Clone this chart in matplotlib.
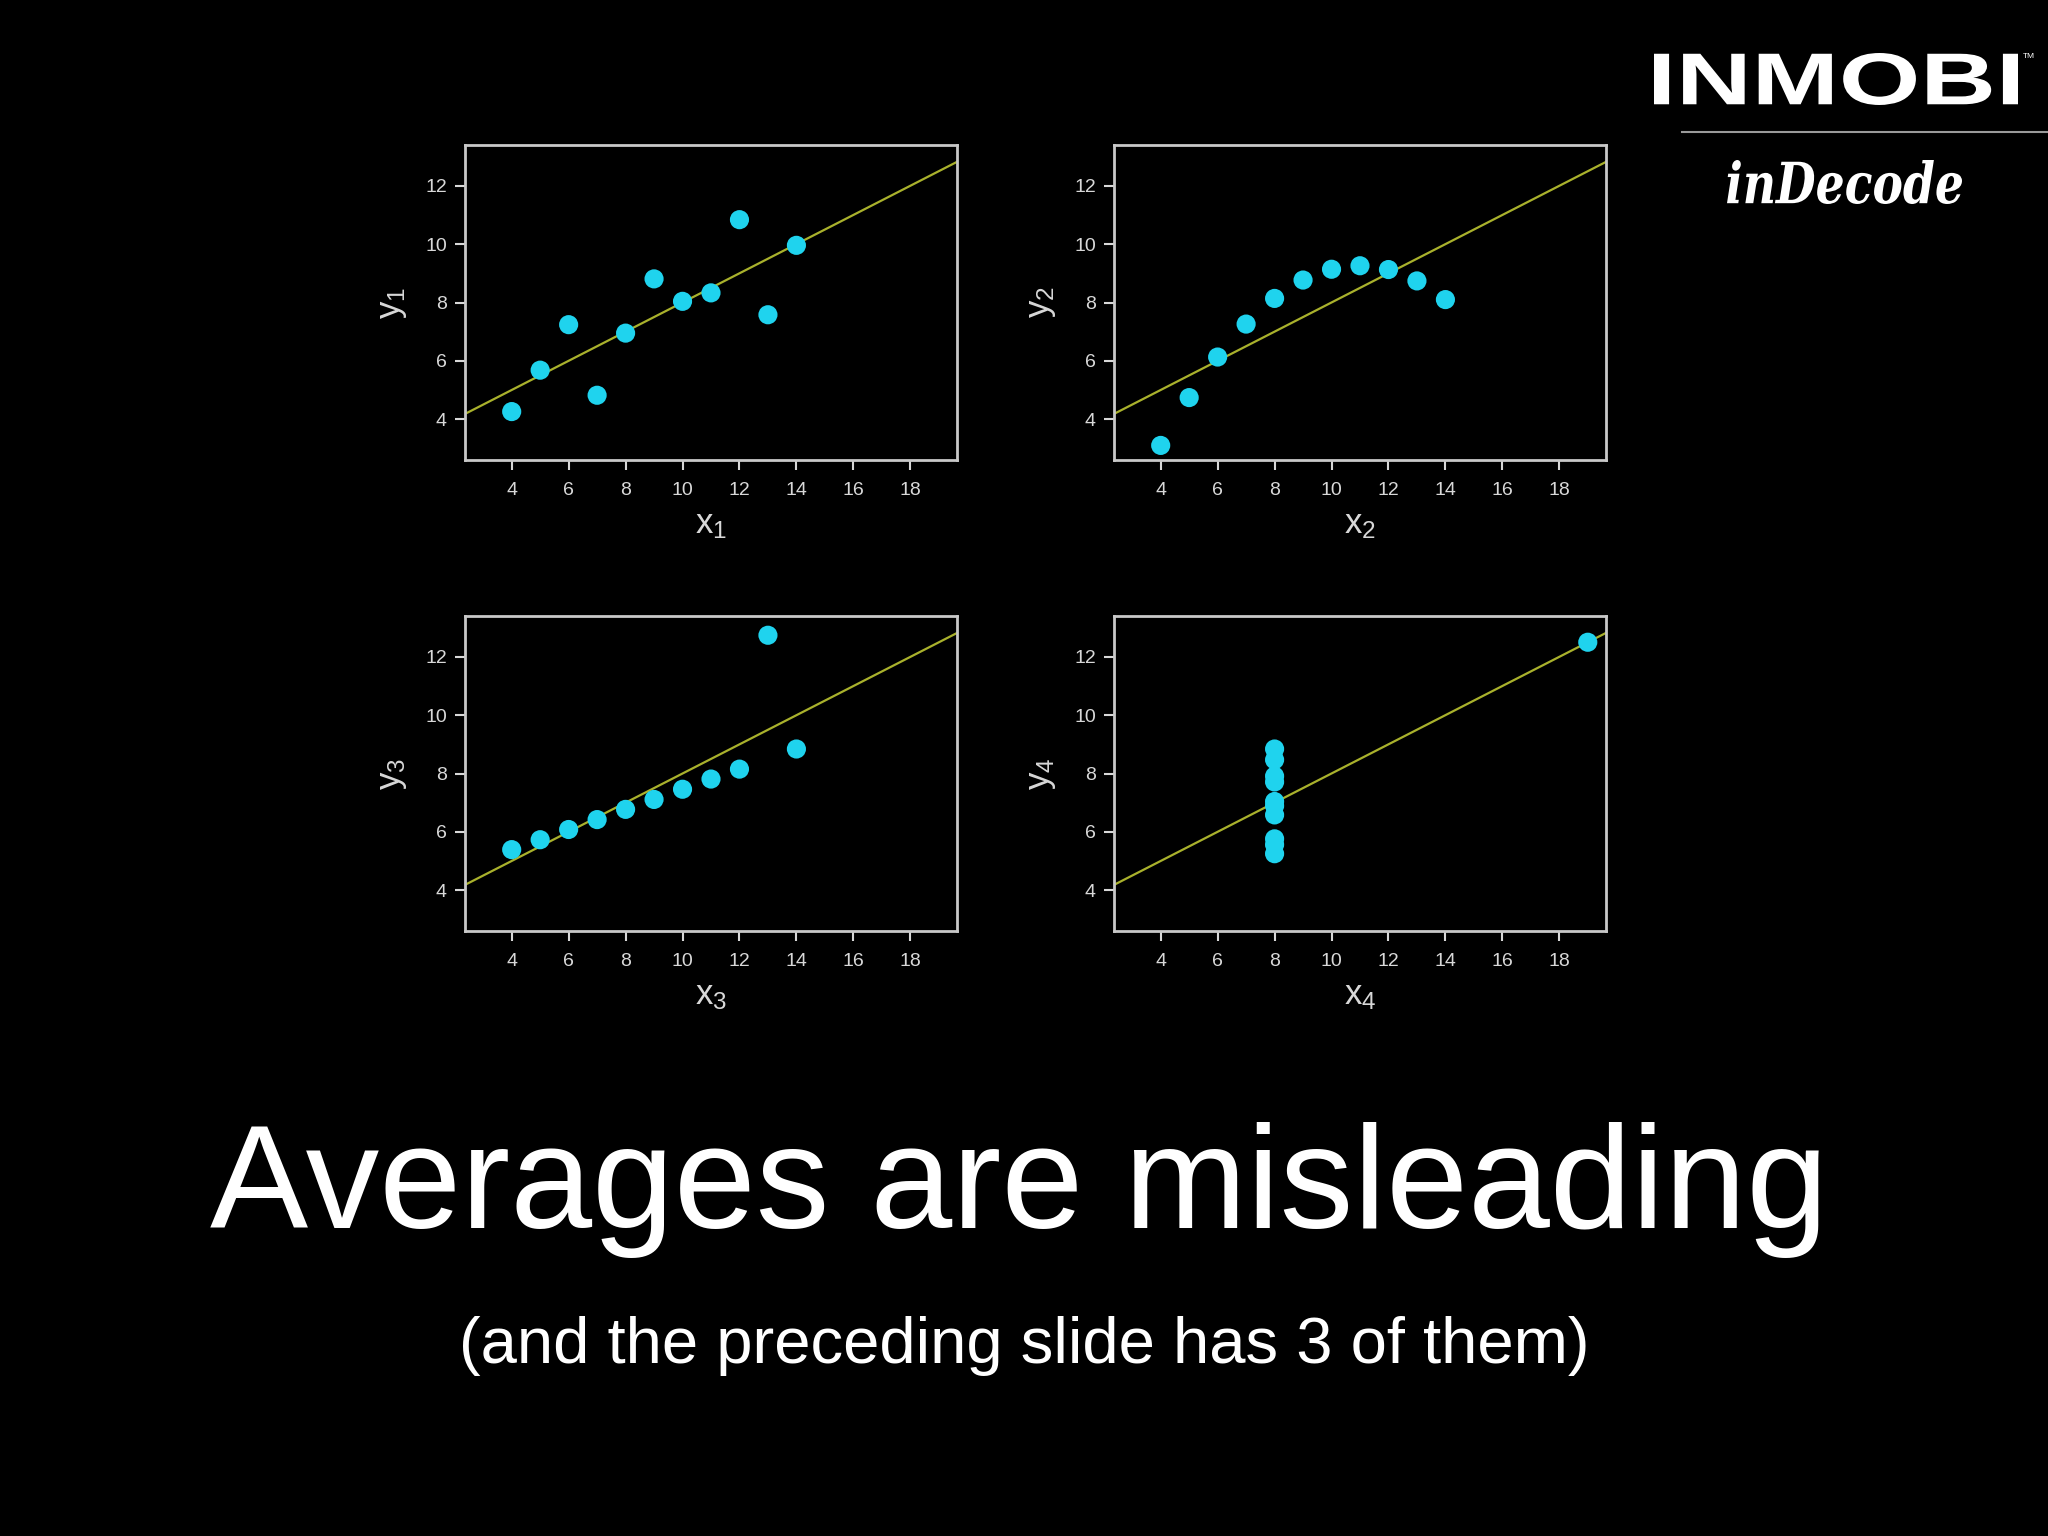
import numpy as np
import matplotlib
matplotlib.use("Agg")
import matplotlib.pyplot as plt
from matplotlib.textpath import TextPath
from matplotlib.patches import PathPatch
from matplotlib.font_manager import FontProperties
from matplotlib.transforms import Affine2D

# Anscombe's quartet
x_123 = [10, 8, 13, 9, 11, 14, 6, 4, 12, 7, 5]
y_1 = [8.04, 6.95, 7.58, 8.81, 8.33, 9.96, 7.24, 4.26, 10.84, 4.82, 5.68]
y_2 = [9.14, 8.14, 8.74, 8.77, 9.26, 8.10, 6.13, 3.10, 9.13, 7.26, 4.74]
y_3 = [7.46, 6.77, 12.74, 7.11, 7.81, 8.84, 6.08, 5.39, 8.15, 6.42, 5.73]
x_4 = [8, 8, 8, 8, 8, 8, 8, 19, 8, 8, 8]
y_4 = [6.58, 5.76, 7.71, 8.84, 8.47, 7.04, 5.25, 12.50, 5.56, 7.91, 6.89]

x_ticks = [4, 6, 8, 10, 12, 14, 16, 18]
y_ticks = [4, 6, 8, 10, 12]

title = "Averages are misleading"
subtitle = "(and the preceding slide has 3 of them)"

panels = [
    (x_123, y_1, "1"),
    (x_123, y_2, "2"),
    (x_123, y_3, "3"),
    (x_4, y_4, "4"),
]

plt.rcParams['font.family'] = ['Liberation Sans', 'DejaVu Sans']
plt.rcParams['mathtext.fontset'] = 'custom'
plt.rcParams['mathtext.rm'] = 'Liberation Sans'
plt.rcParams['mathtext.it'] = 'Liberation Sans'
plt.rcParams['mathtext.default'] = 'rm'

bg = 'black'
fg = '#d8d8d8'
dot = '#1fd3ee'
line_col = '#a9b12c'

fig = plt.figure(figsize=(20.48, 15.36), dpi=100, facecolor=bg)

W, H = 2048.0, 1536.0
lefts = [465, 1114]
tops = [145, 616]
aw, ah = 492, 315

for i, (xs, ys, k) in enumerate(panels):
    col, row = i % 2, i // 2
    ax = fig.add_axes([lefts[col] / W, 1 - (tops[row] + ah) / H, aw / W, ah / H])
    ax.set_facecolor(bg)
    ax.set_xlim(2.36, 19.64)
    ax.set_ylim(2.6, 13.4)

    # least squares fit, drawn across the whole panel
    slope, icpt = np.polyfit(xs, ys, 1)
    ax.axline((0, icpt), slope=slope, color=line_col, lw=1.6, zorder=2)
    ax.scatter(xs, ys, s=190, color=dot, edgecolors='none', zorder=3)

    ax.set_xticks(x_ticks)
    ax.set_yticks(y_ticks)
    ax.tick_params(colors=fg, labelcolor=fg, labelsize=14, length=7, width=1.5,
                   direction='out')
    ax.tick_params(axis='x', pad=9)
    ax.tick_params(axis='y', pad=6)
    for s in ax.spines.values():
        s.set_color('#c8c8c8')
        s.set_linewidth(2)

    ax.set_xlabel(f"x$_{k}$", color=fg, fontsize=25, labelpad=6)
    ax.set_ylabel(f"y$_{k}$", color=fg, fontsize=25, labelpad=12)

fig.text(0.4975, 0.2005, title, color='white', fontsize=106, ha='center', va='baseline')
fig.text(0.50, 0.1125, subtitle, color='white', fontsize=47, ha='center', va='baseline')


def logo_text(s, x0, x1, top, bottom, prop):
    # text outline squeezed into a pixel box (y measured from the top)
    tp = TextPath((0, 0), s, size=100, prop=prop)
    bb = tp.get_extents()
    tr = (Affine2D().translate(-bb.x0, -bb.y0)
          .scale((x1 - x0) / bb.width, (bottom - top) / bb.height)
          .translate(x0, H - bottom))
    fig.add_artist(PathPatch(tr.transform_path(tp), facecolor='white',
                             edgecolor='none', transform=None))


logo_text("INMOBI", 1654, 2018, 53, 105,
          FontProperties(family='Liberation Sans', weight='bold'))
fig.text(2023 / W, 1 - 58 / H, "TM", color='white', fontsize=6, ha='left', va='baseline')
fig.add_artist(plt.Line2D([1682 / W, 1.0], [1 - 132 / H, 1 - 132 / H], color='#9a9a9a', lw=1.5))
logo_text("inDecode", 1727, 1962, 160, 204,
          FontProperties(family='DejaVu Serif', weight='bold', style='italic'))

fig.savefig("out.png", dpi=100, facecolor=bg)
